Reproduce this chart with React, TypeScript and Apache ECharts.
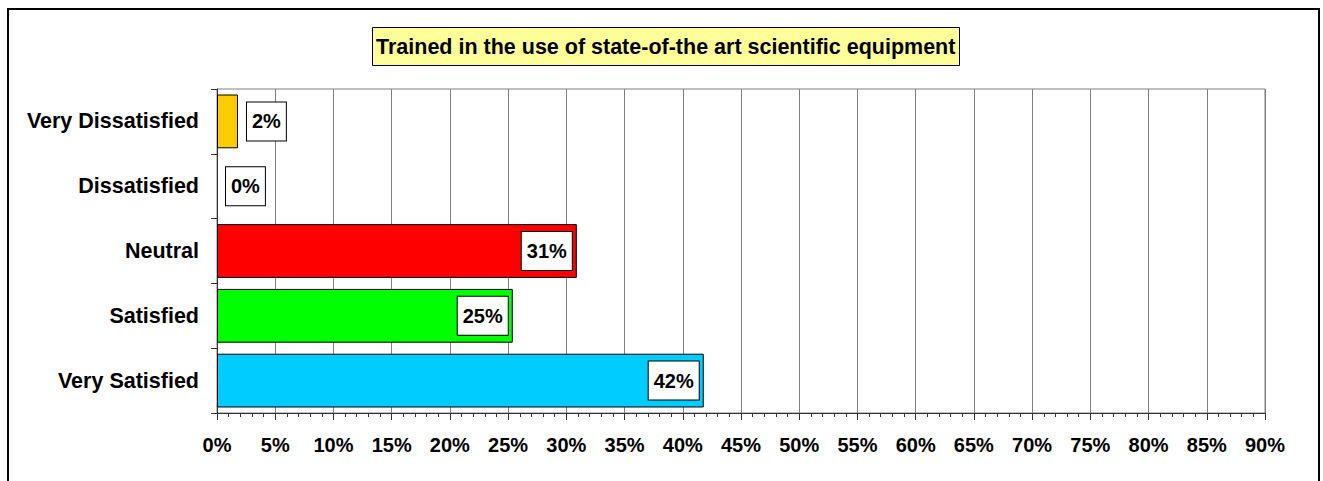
import React, { useEffect, useRef } from "react";
import * as echarts from "echarts";

const title = "Trained in the use of state-of-the art scientific equipment";
const categories = ["Very Dissatisfied", "Dissatisfied", "Neutral", "Satisfied", "Very Satisfied"];
const values = [1.8, 0, 30.9, 25.4, 41.8];
const colors = ["#FFCC00", "#FFFFFF", "#FF0000", "#00FF00", "#00CCFF"];
const xTicks = { min: 0, max: 90, interval: 5 };
const FONT = "'Liberation Sans', Arial, sans-serif";

export default function App() {
  const ref = useRef<HTMLDivElement>(null);
  useEffect(() => {
    if (!ref.current) return;
    const chart = echarts.init(ref.current, null, { renderer: "svg" });
    const labelBase = {
      show: true,
      color: "#000",
      fontFamily: FONT,
      fontWeight: "bold",
      fontSize: 20,
      lineHeight: 22,
      backgroundColor: "#fff",
      borderColor: "#000",
      borderWidth: 1,
      padding: [8, 5, 8, 5],
      formatter: (p: any) => Math.round(p.value) + "%",
    };
    chart.setOption({
      animation: false,
      title: {
        text: title,
        left: 372,
        top: 27,
        padding: [8, 4, 8, 4],
        backgroundColor: "#FFFF99",
        borderColor: "#000",
        borderWidth: 1,
        textStyle: { fontFamily: FONT, fontWeight: "bold", fontSize: 21.5, color: "#000", lineHeight: 23 },
      },
      graphic: [
        {
          type: "rect",
          shape: { x: 8, y: 9, width: 1311, height: 520 },
          style: { fill: "none", stroke: "#000", lineWidth: 2 },
          silent: true,
        },
      ],
      grid: {
        left: 217,
        right: 58,
        top: 89,
        bottom: 68,
        show: true,
        borderColor: "#808080",
        borderWidth: 1,
        backgroundColor: "transparent",
      },
      xAxis: {
        type: "value",
        min: xTicks.min,
        max: xTicks.max,
        interval: xTicks.interval,
        axisLine: { show: true, lineStyle: { color: "#333", width: 1 } },
        axisTick: { show: true, length: 7, lineStyle: { color: "#333" } },
        minorTick: { show: true, splitNumber: 5, length: 4, lineStyle: { color: "#333" } },
        splitLine: { show: true, lineStyle: { color: "#808080", width: 1 } },
        axisLabel: {
          formatter: "{value}%",
          color: "#000",
          fontFamily: FONT,
          fontWeight: "bold",
          fontSize: 20,
          margin: 22,
        },
      },
      yAxis: {
        type: "category",
        inverse: true,
        data: categories,
        axisLine: { show: true, lineStyle: { color: "#333", width: 1 } },
        axisTick: { show: true, length: 6, alignWithLabel: false, lineStyle: { color: "#333" } },
        axisLabel: {
          color: "#000",
          fontFamily: FONT,
          fontWeight: "bold",
          fontSize: 21.5,
          margin: 18,
        },
      },
      series: [
        {
          type: "bar",
          barCategoryGap: "17%",
          data: values.map((v, i) => ({
            value: v,
            itemStyle: { color: colors[i], borderColor: "#000", borderWidth: v === 0 ? 0 : 1 },
            label:
              v < 5
                ? { ...labelBase, position: "right", distance: 9 }
                : { ...labelBase, position: "insideRight", distance: 5 },
          })),
        },
      ],
    });
    return () => chart.dispose();
  }, []);
  return (
    <div
      ref={ref}
      style={{ position: "fixed", left: 0, top: 0, width: 1323, height: 481, background: "#fff" }}
    />
  );
}
